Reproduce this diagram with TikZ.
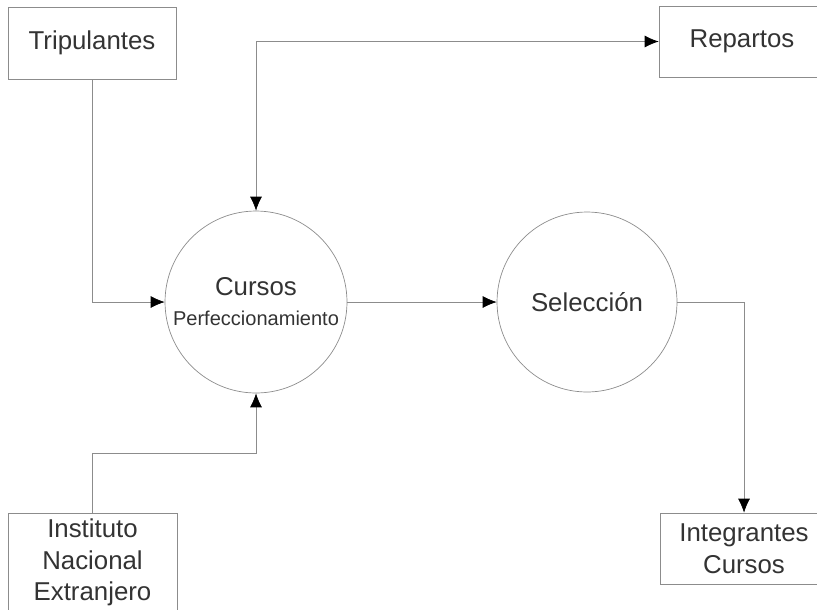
\documentclass[tikz,border=0pt]{standalone}
\usepackage{fontspec}
\setmainfont{Liberation Sans}
\usetikzlibrary{arrows.meta,positioning}

\begin{document}
\begin{tikzpicture}[x=0.02cm, y=-0.02cm]
          \tikzset{
              mybox/.style={rectangle, draw=black!45, thin, inner sep=0pt, text=black!80, align=center, font=\fontsize{14.7}{18}\selectfont},
              mycircle/.style={circle, draw=black!45, thin, inner sep=0pt, minimum size=3.64cm, text=black!80, align=center, font=\fontsize{14.7}{18}\selectfont},
              mytip/.style={Latex[length=2.8mm, width=2.4mm, color=black]},
              myarrow/.style={-{Latex[length=2.8mm, width=2.4mm, color=black]}, draw=black!45, thin},
              myline/.style={draw=black!45, thin}
          }
          \clip (0,0) rectangle (817,609);
          \node[mybox, minimum width=3.36cm, minimum height=1.44cm] (tripulantes) at (92,43) {Tripulantes};
          \node[mybox, minimum width=3.32cm, minimum height=1.42cm] (repartos) at (742,41.5) {Repartos};
          \node[mybox, minimum width=3.38cm, minimum height=1.98cm] (instituto) at (92.5,562.5) {Instituto\\Nacional\\Extranjero};
          \node[mybox, minimum width=3.36cm, minimum height=1.42cm] (integrantes) at (744,548.5) {Integrantes\\Cursos};
          \node[mycircle] (cursos) at (256,302) {Cursos\\[-1pt]{\fontsize{11.4}{13}\selectfont Perfeccionamiento}};
          \node[mycircle, minimum size=3.6cm] (seleccion) at (587,302) {Selecci\'on};
          \coordinate (bend) at (256,453);

          \draw[myarrow] (tripulantes.south) |- (cursos.west);
          \draw[myarrow] (instituto.north) |- (bend) -- (cursos.south);
          \draw[myarrow, {Latex[length=2.8mm, width=2.4mm, color=black]}-{Latex[length=2.8mm, width=2.4mm, color=black]}] (cursos.north) |- (repartos.west);
          \draw[myarrow] (cursos.east) -- (seleccion.west);
          \draw[myarrow] (seleccion.east) -| (integrantes.north);
\end{tikzpicture}
\end{document}
